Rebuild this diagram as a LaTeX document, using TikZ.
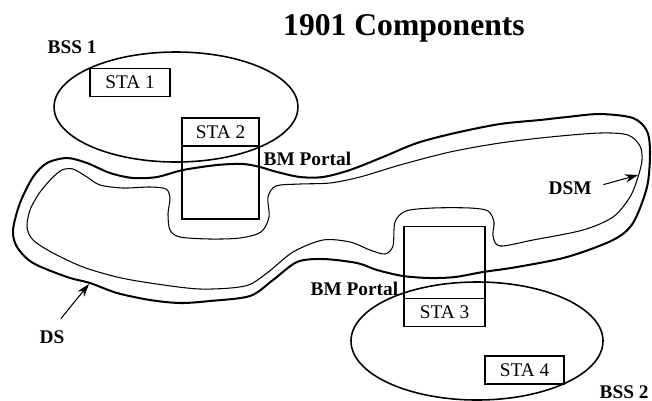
\documentclass[tikz,border=0pt]{standalone}
\usepackage{fontspec}
\setmainfont{Liberation Serif}
\usetikzlibrary{positioning, arrows.meta}

\begin{document}
\begin{tikzpicture}[x=0.02cm, y=-0.02cm, thick, node distance=0pt, font=\fontsize{11}{13}\selectfont]
\tikzset{%
	sta/.style = {draw, rectangle, line width=1pt, outer sep=0pt, inner sep=0pt, minimum width=1.6cm, minimum height=0.56cm},
	portal/.style = {draw, rectangle, line width=1pt, outer sep=0pt, inner sep=0pt, minimum width=1.6cm},
	lbl/.style = {font=\fontsize{11}{13}\selectfont\bfseries, anchor=base west, inner sep=0pt},
	bss/.style = {line width=.9pt},
	dsline/.style = {line width=1.15pt},
	dsmline/.style = {line width=.6pt},
	con/.style = {-{Stealth[length=2.6mm, width=1.7mm]}, line width=.6pt}
}
\useasboundingbox (0,0) rectangle (652,400);

% Title
\draw node at (404,35) [anchor=base, font=\fontsize{18}{22}\selectfont\bfseries] (title) {1901 Components};

% BSS 1
\draw[bss] (176,107) ellipse [x radius=122, y radius=55];
\draw node at (47,53) [lbl] (bss1) {BSS 1};
\draw node at (130,82.5) [sta] (sta1) {STA 1};
\draw node at (220.5,132) [sta, minimum width=1.54cm] (sta2) {STA 2};
\draw node [portal, minimum width=1.54cm, minimum height=1.46cm, below=of sta2] (portal2) {};
\draw node at (263,165) [lbl] (bmp1) {BM Portal};

% BSS 2
\draw[bss] (477,341) ellipse [x radius=126, y radius=59];
\draw node at (599,398) [lbl] (bss2) {BSS 2};
\draw node at (444.5,312.5) [sta, minimum width=1.62cm] (sta3) {STA 3};
\draw node [portal, minimum width=1.62cm, minimum height=1.44cm, above=of sta3] (portal3) {};
\draw node at (524.5,370) [sta, minimum width=1.58cm] (sta4) {STA 4};
\draw node at (310,295) [lbl] (bmp2) {BM Portal};

% DS
\draw[dsline] plot[smooth cycle, tension=0.5] coordinates {
	(47,163) (67,158) (87,163) (110,173) (133,178) (157,177) (183,170) (217,165)
	(243,164) (260,167) (277,172) (300,177) (323,177) (350,170) (383,157) (417,143)
	(455,133) (500,124) (540,120) (567,117) (600,114) (633,118) (647,131) (650,153)
	(647,187) (633,223) (613,240) (567,257) (517,267) (483,272) (455,277) (430,278)
	(403,276) (377,270) (357,263) (323,259) (297,262) (273,280) (250,296) (210,301)
	(180,303) (150,300) (117,293) (90,283) (67,277) (33,263) (17,247) (13,230)
	(20,203) (33,177)};

% DSM
\draw[dsmline] plot[smooth cycle, tension=0.5] coordinates {
	(52,178) (62,170) (73,169) (87,177) (100,185) (123,188) (150,187) (166,189)
	(170,198) (168,214) (170,230) (180,237) (210,239) (240,238) (261,232) (269,217)
	(268,197) (276,186) (300,184) (330,183) (360,177) (400,165) (450,152) (500,143)
	(550,137) (600,133) (628,135) (640,146) (642,160) (638,177) (630,197) (613,217)
	(583,230) (533,240) (500,246) (493,236) (494,222) (488,211) (470,208) (433,208)
	(406,211) (395,222) (393,246) (385,254) (370,250) (350,242) (323,240) (293,252)
	(267,273) (245,286) (200,289) (150,283) (117,277) (83,267) (53,253) (33,240)
	(27,227) (30,210) (38,195) (45,186)};

% Labels
\draw node at (548,194) [lbl] (dsmlbl) {DSM};
\draw node at (39,343) [lbl] (dslbl) {DS};
\coordinate (dsmtip) at (638,175);
\coordinate (dstip) at (89,284);
\draw[con, shorten <=2.3mm] (dsmlbl.east) -- (dsmtip);
\draw[con, shorten <=2.8mm] (dslbl.north) -- (dstip);

\end{tikzpicture}
\end{document}
